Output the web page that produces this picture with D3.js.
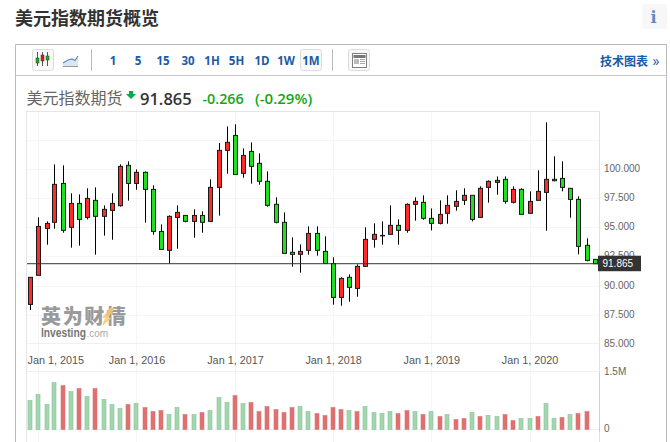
<!DOCTYPE html>
<html><head><meta charset="utf-8">
<script src="https://cdn.jsdelivr.net/npm/d3@7"></script>
<style>html,body{margin:0;padding:0;background:#fff;overflow:hidden}svg{display:block}</style>
</head><body><svg id="c" width="670" height="442"></svg>
<script>
const firstMonth = [2014, 11];
const opens = [88.38,90.87,94.89,95.41,98.74,94.98,97.03,95.83,97.29,95.92,96.43,96.83,100.29,98.74,99.69,98.23,94.63,93.01,95.83,96.00,95.49,96.00,95.49,98.40,101.57,102.85,99.60,101.48,100.46,98.92,96.95,95.41,92.84,92.67,93.01,94.46,92.92,91.88,88.98,90.70,89.75,91.64,93.95,94.29,94.38,95.15,94.72,96.95,97.12,95.75,95.32,96.18,96.78,97.29,97.72,95.83,98.40,98.83,99.09,97.12,98.23,96.18,97.29,97.97,99.09,99.17,98.32,97.37,93.44,92.24];
const closes = [90.70,95.06,95.32,98.66,94.72,97.03,95.66,97.46,95.92,96.52,97.03,100.20,98.74,99.69,98.23,94.63,93.09,95.92,96.26,95.49,96.00,95.41,98.40,101.57,102.26,99.51,101.14,100.20,98.92,96.86,95.41,92.75,92.67,92.92,94.46,93.01,91.88,88.98,90.61,89.84,91.64,93.95,94.38,94.27,95.15,94.72,96.95,97.20,95.75,95.32,96.09,96.86,97.20,97.72,95.66,98.32,98.92,99.00,97.20,98.23,96.09,97.20,98.06,99.09,98.97,98.40,97.37,93.35,92.15,91.865];
const highs = [90.70,95.83,95.49,100.37,100.29,97.89,97.80,98.32,98.40,96.86,97.89,100.37,100.63,99.94,99.77,98.57,95.23,96.00,96.86,96.00,96.52,96.35,99.09,102.20,103.62,103.80,101.74,102.25,101.31,99.77,97.55,96.26,94.12,93.52,95.06,95.06,94.21,92.41,90.70,90.95,91.81,94.98,95.32,95.49,96.86,95.66,97.03,97.55,97.72,96.60,97.29,97.72,98.15,98.32,97.72,98.49,99.00,99.34,99.34,98.49,98.32,98.06,99.86,103.97,101.06,100.63,98.32,97.63,94.04,92.24];
const lows = [87.90,90.87,93.49,94.86,94.52,93.24,93.41,95.66,92.64,94.27,93.92,96.75,97.26,98.20,95.38,94.35,93.09,91.88,93.15,95.41,94.09,94.52,95.49,95.98,99.57,99.51,99.23,98.72,98.63,96.75,95.32,92.75,91.61,91.10,92.64,92.55,91.88,88.36,88.27,88.61,89.04,91.64,93.24,93.49,94.38,93.49,94.52,95.55,95.63,94.72,95.23,95.29,96.40,96.89,95.49,95.83,97.09,97.77,97.00,97.03,96.09,96.18,97.29,94.69,98.92,98.06,95.80,92.67,92.07,91.865];
const volumes = [0.754,0.910,0.650,1.222,1.144,0.988,1.066,0.858,1.066,0.780,0.650,0.546,0.650,0.676,0.572,0.468,0.494,0.390,0.572,0.390,0.390,0.442,0.494,0.832,0.702,0.884,0.676,0.702,0.468,0.598,0.520,0.442,0.572,0.598,0.468,0.416,0.364,0.572,0.520,0.494,0.468,0.598,0.442,0.416,0.468,0.416,0.494,0.468,0.390,0.468,0.338,0.390,0.260,0.286,0.442,0.338,0.364,0.338,0.390,0.234,0.286,0.286,0.338,0.676,0.286,0.312,0.390,0.416,0.468];
const volumeUp = "gggg rgrgr gggrg rrrgg rgrgg grgrr rrrrg grrrr grggg grrgr grgrr grggr rggrg grgrr rggrg".replace(/ /g,"");
const priceTicks = [100, 97.5, 95, 92.5, 90, 87.5, 85];
const gridTicks = [102.5, 100, 97.5, 95, 92.5, 90, 87.5];
const yearTicks = [2015, 2016, 2017, 2018, 2019, 2020];
const lastPrice = 91.865;
const pageTitle = "美元指数期货概览";
const instrument = "美元指数期货";
const intervals = ["1","5","15","30","1H","5H","1D","1W","1M"];
const intervalX = [113,138,163,188,212,236.5,262,286,311];
const change = "-0.266", changePct = "(-0.29%)";

const CJK = "'Noto Sans CJK SC','Noto Sans',sans-serif";
const LAT = "'Open Sans','Noto Sans',sans-serif";
const AX = "'Liberation Sans',Arial,sans-serif";
const svg = d3.select("#c");
const RED="#ff2a2a", GREEN="#1fe01f", BLUE="#1a5ca6";

const dates = opens.map((_,i)=>new Date(Date.UTC(firstMonth[0], firstMonth[1]+i, 1)));
const x = d3.scaleUtc().domain([new Date(Date.UTC(2015,0,1)), new Date(Date.UTC(2020,0,1))]).range([38.3,529.5]);
const y = d3.scaleLinear().domain([100,90]).range([168.7,285.5]);
const yv = d3.scaleLinear().domain([0,1.5]).range([429.5,372]);

// page
svg.append("text").attr("x",15).attr("y",25).attr("font-family",CJK).attr("font-size",18).attr("font-weight",700).attr("fill","#333").text(pageTitle);
svg.append("rect").attr("x",642).attr("y",4).attr("width",25).attr("height",25).attr("rx",2).attr("fill","#f7f7f7");
svg.append("text").attr("x",653.5).attr("y",23).attr("text-anchor","middle").attr("font-family","'DejaVu Serif',serif").attr("font-weight",700).attr("font-size",16).attr("fill","#5a8cc6").text("i");
svg.append("path").attr("d","M15.5 442V44.5H666.5V442").attr("fill","none").attr("stroke","#bbb");
svg.append("line").attr("x1",15).attr("x2",667).attr("y1",75.5).attr("y2",75.5).attr("stroke","#c4c4c4");

// toolbar
const btn=(bx,w)=>svg.append("rect").attr("x",bx).attr("y",49.5).attr("width",w).attr("height",21).attr("rx",2).attr("fill","#f8f8f8").attr("stroke","#ddd");
btn(32.5,21); btn(300.5,21); btn(348.5,21);
[[37.5,58,63,"#1fae1f"],[42.5,55,61,"#e01818"],[47.5,56,60,"#1fae1f"]].forEach(([bx,bt,bb,c])=>{
  svg.append("line").attr("x1",bx).attr("x2",bx).attr("y1",52).attr("y2",66).attr("stroke","#555");
  svg.append("rect").attr("x",bx-1.5).attr("y",bt).attr("width",3).attr("height",bb-bt).attr("fill",c).attr("stroke","#333").attr("stroke-width",.5);
});
svg.append("path").attr("d","M63 66V63L68 60L72 59L75 60.5L78 56V66Z").attr("fill","#dbe5f3");
svg.append("path").attr("d","M63 63L68 60L72 59L75 60.5L78 56").attr("fill","none").attr("stroke","#5a8cc6").attr("stroke-width",1.2);
svg.append("line").attr("x1",63).attr("x2",78).attr("y1",66.5).attr("y2",66.5).attr("stroke","#999");
[91.5,332.5].forEach(v=>svg.append("line").attr("x1",v).attr("x2",v).attr("y1",49).attr("y2",71).attr("stroke","#bbb"));
svg.selectAll("text.iv").data(intervals).join("text").attr("class","iv").attr("x",(d,i)=>intervalX[i]).attr("y",65).attr("text-anchor","middle").attr("font-family",LAT).attr("font-weight",700).attr("font-size",11.5).attr("fill",BLUE).text(d=>d);
svg.append("rect").attr("x",352.5).attr("y",53.5).attr("width",14).attr("height",14).attr("fill","#fff").attr("stroke","#808080");
svg.append("rect").attr("x",353.5).attr("y",55).attr("width",12).attr("height",3).attr("fill","#777");
svg.append("rect").attr("x",354).attr("y",59).attr("width",5).attr("height",5).attr("fill","#bbb");
[59.5,61.5,63.5].forEach(v=>svg.append("line").attr("x1",360).attr("x2",365).attr("y1",v).attr("y2",v).attr("stroke","#aaa"));
svg.append("text").attr("x",600).attr("y",65.5).attr("font-family",CJK).attr("font-weight",700).attr("font-size",12).attr("fill",BLUE).text("技术图表");
svg.append("text").attr("x",652.5).attr("y",66).attr("font-family",LAT).attr("font-size",14).attr("fill",BLUE).text("»");

// header quote
svg.append("text").attr("x",26.5).attr("y",104).attr("font-family",CJK).attr("font-size",16).attr("fill","#666").text(instrument);
svg.append("path").attr("d","M129 91H133V94H136L131 99L126 94H129Z").attr("fill","#0aa84a");
svg.append("text").attr("x",140).attr("y",104.5).attr("font-family",LAT).attr("font-weight",600).attr("font-size",16.5).attr("fill","#333").text(d3.format(".3f")(lastPrice));
svg.append("text").attr("x",202.5).attr("y",104).attr("font-family",LAT).attr("font-weight",600).attr("font-size",14.3).attr("fill","#12a812").text(change);
svg.append("text").attr("x",255).attr("y",104).attr("font-family",LAT).attr("font-weight",600).attr("font-size",15).attr("fill","#12a812").text(changePct);

// grid
const g=svg.append("g");
const yearDates=yearTicks.map(t=>new Date(Date.UTC(t,0,1)));
g.selectAll("line.h").data(gridTicks).join("line").attr("x1",27).attr("x2",599).attr("y1",d=>Math.round(y(d))+.5).attr("y2",d=>Math.round(y(d))+.5).attr("stroke","#f5f5f5");
g.selectAll("line.v").data(yearDates).join("line").attr("x1",d=>Math.round(x(d))+.5).attr("x2",d=>Math.round(x(d))+.5).attr("y1",112).attr("y2",442).attr("stroke","#f5f5f5");
[111.5,343.5,371.5].forEach(v=>g.append("line").attr("x1",26.5).attr("x2",599.5).attr("y1",v).attr("y2",v).attr("stroke",v==111.5?"#e6e6e6":"#f0f0f0"));
g.append("line").attr("x1",26.5).attr("x2",26.5).attr("y1",111).attr("y2",442).attr("stroke","#e6e6e6");
g.append("line").attr("x1",599.5).attr("x2",599.5).attr("y1",111).attr("y2",372).attr("stroke","#e0e0e0");
g.append("line").attr("x1",599.5).attr("x2",599.5).attr("y1",372).attr("y2",432).attr("stroke","#c3d3e4");
g.append("line").attr("x1",599.5).attr("x2",599.5).attr("y1",432).attr("y2",442).attr("stroke","#e0e0e0");
g.append("line").attr("x1",27).attr("x2",599).attr("y1",429.5).attr("y2",429.5).attr("stroke","#f0f0f0");

// watermark
svg.append("text").attr("x",41).attr("y",324).attr("font-family",CJK).attr("font-weight",900).attr("font-size",20).attr("fill","#9a9a9a").attr("textLength",85).text("英为财情");
svg.append("path").attr("d","M110 308L115 308L108 318L112 318L102 326L105 318L102 318Z").attr("fill","#f7c873").attr("opacity",.85);
svg.append("text").attr("x",41).attr("y",336.5).attr("font-family",AX).attr("font-weight",700).attr("font-size",12).attr("fill","#777").attr("textLength",45).attr("lengthAdjust","spacingAndGlyphs").text("Investing");
svg.append("text").attr("x",86.5).attr("y",336.5).attr("font-family",AX).attr("font-size",10).attr("fill","#aaa").text(".com");

// axis labels
svg.append("g").attr("transform","translate(604,0)").call(d3.axisRight(y).tickValues(priceTicks).tickSize(0).tickPadding(0).tickFormat(d3.format(".3f")))
  .call(s=>s.select(".domain").remove())
  .call(s=>s.selectAll("text").attr("font-family",AX).attr("font-size",10).attr("fill","#666").attr("dy",0).attr("y",0).attr("dominant-baseline","central").attr("transform","translate(0,-1)"));
svg.append("g").attr("transform","translate(0,360)").call(d3.axisBottom(x).tickValues(yearDates).tickSize(0).tickPadding(0).tickFormat(d3.utcFormat("%b %-d, %Y")))
  .call(s=>s.select(".domain").remove())
  .call(s=>s.selectAll("text").attr("font-family",AX).attr("font-size",10.8).attr("fill","#555").attr("dy",0).attr("y",3.5).attr("text-anchor",(d,i)=>i==0?"start":"middle").attr("x",(d,i)=>i==0?-11.3:0));
svg.append("text").attr("x",604).attr("y",375).attr("font-family",AX).attr("font-size",10).attr("fill","#666").text("1.5M");
svg.append("text").attr("x",604).attr("y",432).attr("font-family",AX).attr("font-size",10).attr("fill","#666").text("0");

// volume
svg.selectAll("rect.vol").data(volumes).join("rect").attr("class","vol")
 .attr("x",(d,i)=>Math.round(x(dates[i]))-2).attr("width",4)
 .attr("y",d=>yv(d)).attr("height",d=>yv(0)-yv(d))
 .attr("fill",(d,i)=>volumeUp[i]=="g"?"#a3d5ae":"#e07070").attr("stroke",(d,i)=>volumeUp[i]=="g"?"#86c396":"#dd7272").attr("stroke-width",.6);

// candles
const candle=svg.append("g");
opens.forEach((o,i)=>{
  const cx=Math.round(x(dates[i]))+.5, c=closes[i];
  candle.append("line").attr("x1",cx).attr("x2",cx).attr("y1",y(highs[i])).attr("y2",y(lows[i])).attr("stroke","#000").attr("stroke-width",1);
  const top=y(Math.max(o,c)), bot=y(Math.min(o,c));
  candle.append("rect").attr("x",cx-2).attr("width",4).attr("y",top).attr("height",Math.max(bot-top,.5))
   .attr("fill",c>=o?RED:GREEN).attr("stroke","#1a1a1a").attr("stroke-width",1);
});

// last price
svg.append("line").attr("x1",27).attr("x2",599).attr("y1",y(lastPrice)).attr("y2",y(lastPrice)).attr("stroke","#333").attr("stroke-width",1);
svg.append("rect").attr("x",598).attr("y",y(lastPrice)-8).attr("width",43).attr("height",15.5).attr("fill","#333");
svg.append("text").attr("x",602.5).attr("y",y(lastPrice)+3.5).attr("font-family",AX).attr("font-size",10).attr("fill","#fff").text(d3.format(".3f")(lastPrice));
</script></body></html>
